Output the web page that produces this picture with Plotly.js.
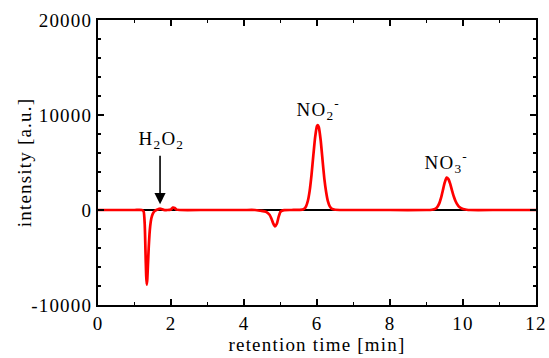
<!DOCTYPE html>
<html><head><meta charset="utf-8">
<script src="https://cdn.plot.ly/plotly-3.0.1.min.js"></script>
<style>html,body{margin:0;padding:0;background:#fff}#c{width:549px;height:358px}
.main-svg text{letter-spacing:1.2px}</style>
</head><body><div id="c"></div>
<script>
// retention time [min] and intensity [a.u.] of the sample (red)
const sampleTime = [0, 1.0, 1.2, 1.25, 1.28, 1.30, 1.32, 1.335, 1.35, 1.37, 1.39, 1.41, 1.43, 1.46, 1.50, 1.55, 1.60, 1.65, 1.70, 1.75, 1.80, 1.90, 2.00, 2.05, 2.10, 2.15, 2.25, 3.0, 4.0, 4.3, 4.45, 4.6, 4.7, 4.75, 4.8, 4.85, 4.9, 4.95, 5.0, 5.1, 5.3, 5.6, 5.65, 5.7, 5.75, 5.8, 5.85, 5.9, 5.95, 6.0, 6.02, 6.05, 6.1, 6.15, 6.2, 6.25, 6.3, 6.35, 6.4, 6.5, 7.0, 8.0, 9.0, 9.15, 9.25, 9.3, 9.35, 9.4, 9.45, 9.5, 9.55, 9.6, 9.65, 9.7, 9.75, 9.8, 9.85, 9.9, 10.0, 10.1, 10.2, 11.0, 12.0];
const sampleIntensity = [0, 0, 0, -150, -1500, -4200, -6900, -7860, -7300, -5600, -3900, -2600, -1700, -900, -400, -120, 0, 80, 160, 90, 20, 0, 60, 250, 220, 40, 0, 0, 0, 0, -80, -180, -500, -900, -1400, -1720, -1450, -700, -180, -20, 0, 40, 130, 390, 970, 2040, 3700, 5770, 7700, 8840, 8950, 8710, 7370, 5340, 3330, 1900, 900, 380, 150, 30, 0, 0, 0, 30, 150, 350, 700, 1300, 2100, 2900, 3410, 3250, 2750, 2050, 1400, 900, 550, 320, 100, 30, 0, 0, 0];
// blank / reference baseline (black)
const blankTime = [0, 12];
const blankIntensity = [0, 0];
// y tick values and labels (hyphen minus as in the reference)
const yTickVals = [-10000, 0, 10000, 20000];
const yTickText = ['-10000', '0', '10000', '20000'];

const FONT = 'Liberation Serif';
const axBase = {
  showline: true, linecolor: '#000', linewidth: 2, mirror: 'allticks',
  ticks: 'inside', ticklen: 6, tickwidth: 1.5, tickcolor: '#000',
  showgrid: false, zeroline: false,
  tickfont: {family: FONT, size: 19, color: '#000'}
};
const data = [
  {x: blankTime, y: blankIntensity, mode: 'lines', line: {color: '#000', width: 2}, hoverinfo: 'skip'},
  {x: sampleTime, y: sampleIntensity, mode: 'lines', line: {color: '#ff0000', width: 2.7, shape: 'spline', smoothing: 0.5}}
];
const layout = {
  width: 549, height: 358,
  margin: {l: 98, r: 13, t: 20, b: 53},
  paper_bgcolor: '#fff', plot_bgcolor: '#fff',
  showlegend: false,
  font: {family: FONT, color: '#000'},
  xaxis: Object.assign({}, axBase, {
    range: [0, 12], dtick: 2, tick0: 0,
    minor: {dtick: 1, ticks: 'inside', ticklen: 3, tickcolor: '#000', tickwidth: 1.5},
    title: {text: 'retention time [min]', font: {family: FONT, size: 19, color: '#000'}, standoff: 5}
  }),
  yaxis: Object.assign({}, axBase, {
    range: [-10000, 20000], tickmode: 'array', tickvals: yTickVals, ticktext: yTickText,
    minor: {dtick: 2000, tick0: 0, ticks: 'inside', ticklen: 3, tickcolor: '#000', tickwidth: 1.5},
    title: {text: 'intensity [a.u.]', font: {family: FONT, size: 19, color: '#000'}, standoff: 2}
  }),
  annotations: [
    {x: 1.74, y: 7400, xref: 'x', yref: 'y', text: 'H<sub>2</sub>O<sub>2</sub>', showarrow: false,
     font: {family: FONT, size: 19, color: '#000'}},
    {x: 1.7, y: 600, xref: 'x', yref: 'y', text: '', showarrow: true, ax: 0, ay: -50,
     arrowhead: 2, arrowsize: 1.4, arrowwidth: 1.6, arrowcolor: '#000'},
    {x: 6.03, y: 10600, xref: 'x', yref: 'y', text: 'NO<sub>2</sub><sup>-</sup>', showarrow: false,
     font: {family: FONT, size: 19, color: '#000'}},
    {x: 9.55, y: 5000, xref: 'x', yref: 'y', text: 'NO<sub>3</sub><sup>-</sup>', showarrow: false,
     font: {family: FONT, size: 19, color: '#000'}}
  ]
};
Plotly.newPlot('c', data, layout, {staticPlot: true, displayModeBar: false});
</script></body></html>
